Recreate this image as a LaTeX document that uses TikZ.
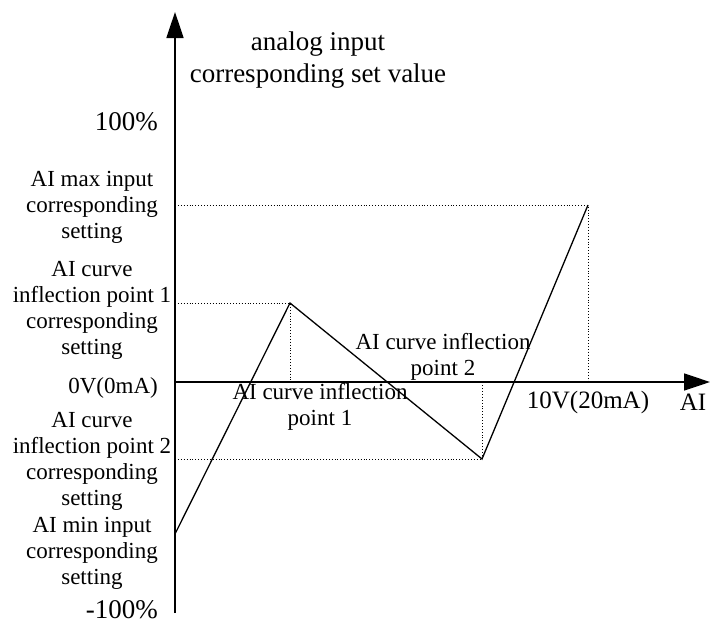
\documentclass[tikz,border=0pt]{standalone}
\usepackage{fontspec}
\setmainfont{Liberation Serif}
\usetikzlibrary{arrows.meta}
\begin{document}
\begin{tikzpicture}[x=1pt, y=-1pt,
    axe/.style={line width=1.6pt, -{Triangle[length=26pt, width=17pt]}},
    courbe/.style={line width=1.3pt},
    repere/.style={dotted, line width=0.9pt},
    lbl/.style={font=\fontsize{23}{26}\selectfont, align=center, inner sep=0pt},
    grand/.style={lbl, font=\fontsize{27}{32}\selectfont}]
    \useasboundingbox (0,0) rectangle (710,625);
    \coordinate (O) at (175,382);
    \coordinate (ybot) at (175,613);
    \coordinate (ytop) at (175,12);
    \coordinate (xend) at (710,382);
    \coordinate (pmin) at (175,534);
    \coordinate (p1) at (290,303);
    \coordinate (p2) at (482,459);
    \coordinate (pmax) at (588,205);

    \draw[axe] (ybot) -- (ytop);
    \draw[axe] (O) -- (xend);

    \draw[repere] (O |- pmax) -- (pmax) -- (pmax |- O);
    \draw[repere] (O |- p1) -- (p1) -- (p1 |- O);
    \draw[repere] (O |- p2) -- (p2) -- (p2 |- O);

    \draw[courbe] (pmin) -- (p1) -- (p2) -- (pmax);

    \node[grand] (titre) at (318,60) {analog input\\corresponding set value};
    \node[grand, anchor=east] (haut) at (158,122) {100\%};
    \node[lbl] (lmax) at (92,207) {AI max input\\corresponding\\setting};
    \node[lbl] (lp1) at (92,310) {AI curve\\inflection point 1\\corresponding\\setting};
    \node[lbl, anchor=east] (zero) at (158,388) {0V(0mA)};
    \node[lbl] (lp2) at (92,461) {AI curve\\inflection point 2\\corresponding\\setting};
    \node[lbl] (lmin) at (92,553) {AI min input\\corresponding\\setting};
    \node[grand, anchor=east] (bas) at (158,610) {-100\%};

    \node[lbl] (np1) at (320,407) {AI curve inflection\\point 1};
    \node[lbl] (np2) at (443,357) {AI curve inflection\\point 2};
    \node[lbl, font=\fontsize{25}{28}\selectfont] (dix) at (588,402) {10V(20mA)};
    \node[lbl, font=\fontsize{25}{28}\selectfont] (ai) at (693,402) {AI};
\end{tikzpicture}
\end{document}
